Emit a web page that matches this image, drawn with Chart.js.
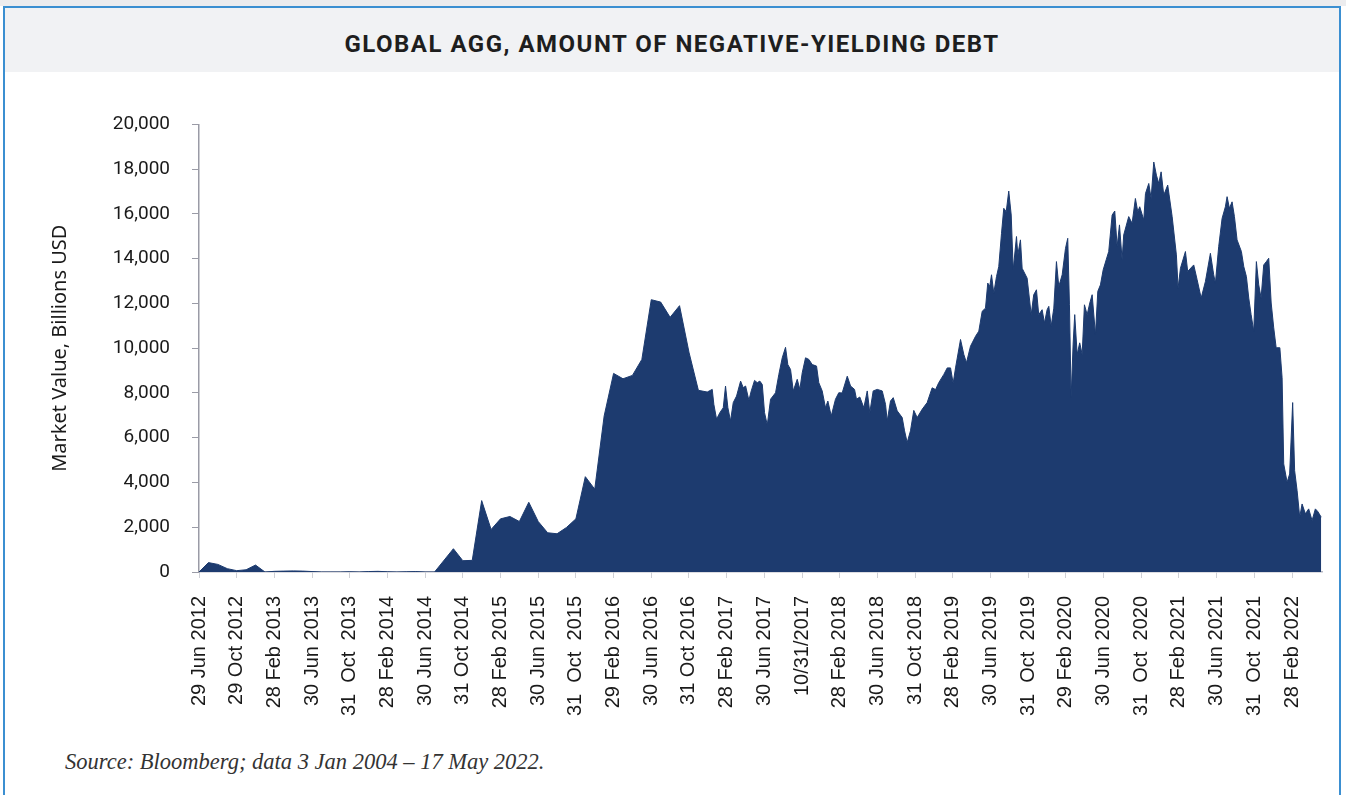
<!DOCTYPE html>
<html lang="en">
<head>
<meta charset="UTF-8">
<title>Global Agg, Amount of Negative-Yielding Debt</title>
<script src="https://cdn.jsdelivr.net/npm/chart.js"></script>
<style>
    body { margin: 0; width: 1346px; height: 795px; background: #fff; overflow: hidden; position: relative; }
    .topstrip { position: absolute; left: 0; top: 0; width: 1346px; height: 6px; background: #ececee; }
    .frame { position: absolute; left: 3px; top: 6px; width: 1334px; height: 800px; border: 2.5px solid #3b8fd1; border-bottom: none; }
    .title { position: absolute; left: 0; top: 0; width: 100%; height: 64px; background: #f1f2f4; overflow: hidden;
             font: 700 24px Roboto, sans-serif; letter-spacing: 1.5px; color: #1e1e1e; text-align: center; line-height: 72px; }
    .chart-box { position: absolute; left: 30px; top: 91px; width: 1304px; height: 629px; }
    .source { position: absolute; left: 65px; top: 749px; font: italic 22.5px "Liberation Serif", serif; color: #333; }
</style>
</head>
<body>
<div class="topstrip"></div>
<div class="frame">
    <div class="title">GLOBAL AGG, AMOUNT OF NEGATIVE-YIELDING DEBT</div>
</div>
<div class="chart-box"><canvas id="chart"></canvas></div>
<div class="source">Source: Bloomberg; data 3 Jan 2004 – 17 May 2022.</div>

<script>
// x = months after 29 Jun 2012, y = market value in billions USD
const months = [
    0, 1, 2, 3, 4, 5, 6, 7, 8, 9, 10, 11, 12, 13, 14, 15, 16, 17, 18, 19, 20, 21, 22, 23, 24, 25,
    27, 28, 29, 30, 31, 32, 33, 34, 35, 36, 37, 38, 39, 40, 41, 42, 43, 44, 45, 46, 47, 48, 49, 50, 51, 52, 53,
    53.94, 54.47, 54.64, 54.93, 55.28, 55.64, 55.88, 56.13, 56.41, 56.70, 57.05, 57.48, 57.76, 58.01, 58.36, 58.61,
    58.96, 59.25, 59.52, 59.78, 60.02, 60.31, 60.66, 61.19, 61.54, 61.90, 62.25, 62.49, 62.78, 63.07, 63.49, 63.77,
    64.02, 64.37, 64.72, 65.08, 65.54, 65.78, 66.14, 66.49, 66.74, 67.10, 67.55, 67.90, 68.26, 68.80, 69.15, 69.57,
    69.78, 70.13, 70.56, 70.92, 71.19, 71.55, 71.98, 72.51, 72.86, 73.04, 73.39, 73.68, 74.10, 74.63, 74.88, 75.16,
    75.51, 75.86, 76.22, 76.75, 77.28, 77.81, 78.17, 78.51, 79.05, 79.41, 79.76, 80.04, 80.29, 80.82, 81.17, 81.45,
    81.88, 82.41, 82.76, 83.12, 83.47, 83.71, 83.92, 84.11, 84.35, 84.64, 84.88, 85.17, 85.41, 85.67, 85.94, 86.20,
    86.41, 86.76, 86.90, 87.18, 87.36, 87.89, 88.32, 88.59, 88.88, 89.12, 89.48, 89.73, 90.01, 90.19, 90.44, 90.72,
    91.00, 91.25, 91.61, 91.96, 92.20, 92.38, 92.56, 92.77, 92.94, 93.20, 93.47, 93.73, 93.97, 94.26, 94.54, 94.79,
    95.14, 95.39, 95.67, 95.96, 96.28, 96.55, 96.91, 97.19, 97.44, 97.69, 97.97, 98.14, 98.67, 99.03, 99.38, 99.63,
    99.84, 100.27, 100.45, 100.80, 101.05, 101.33, 101.61, 101.86, 102.11, 102.39, 102.81, 103.28, 103.73, 103.91, 104.16, 104.69,
    104.93, 105.57, 105.93, 106.36, 106.81, 107.34, 107.69, 107.87, 108.22, 108.58, 108.93, 109.11, 109.36, 109.64, 109.89, 110.17,
    110.63, 110.88, 111.16, 111.41, 111.66, 111.94, 112.22, 112.47, 112.72, 113.00, 113.28, 113.53, 113.79, 114.06, 114.32, 114.71,
    114.95, 115.12, 115.48, 115.75, 116.07, 116.28, 116.54, 116.82, 117.07, 117.42, 117.77, 118.13, 118.48, 118.74, 119.10
];
const values = [
    0, 420, 340, 150, 60, 100, 310, 0, 30, 40, 50, 40, 20, 0, 0, 0, 10, 0, 20, 30, 10, 0, 10, 20, 0, 0,
    1040, 505, 520, 3190, 1900, 2375, 2480, 2256, 3115, 2256, 1753, 1709, 1990, 2375, 4260, 3700, 6974, 8874, 8634, 8785, 9497, 12167, 12060, 11380, 11900, 9822, 8117,
    8042, 8160, 7490, 6830, 7120, 7340, 8310, 7340, 6750, 7570, 7860, 8530, 8235, 8310, 7670, 8090,
    8560, 8460, 8530, 8380, 7120, 6570, 7720, 8010, 8830, 9570, 10040, 9270, 9050, 8090, 8610, 8160,
    8900, 9570, 9500, 9270, 9200, 8460, 8090, 7340, 7640, 6970, 7720, 8010, 8000, 8750, 8310, 8160,
    7720, 7820, 7340, 8090, 7120, 8090, 8160, 8090, 7490, 6750, 7640, 7790, 7200, 6900, 6310, 5790,
    6310, 7220, 6900, 7270, 7570, 8230, 8150, 8460, 8830, 9120, 9120, 8430, 9120, 10390, 9720, 9350,
    10090, 10530, 10760, 11650, 11790, 12910, 12760, 13280, 12460, 13200, 13650, 15130, 16250, 16100, 17020, 15950,
    13500, 14990, 14170, 14840, 13570, 13130, 11500, 12390, 12610, 11500, 11720, 11130, 11720, 11870, 10980, 11790,
    13870, 12760, 13280, 14460, 14910, 11940, 7790, 10180, 11500, 9720, 10240, 9720, 11940, 11500, 12020, 12390,
    10610, 12540, 12830, 13500, 13950, 14320, 15950, 16130, 14540, 15510, 13950, 15060, 15880, 15580, 16690, 16100,
    16320, 15730, 16910, 17360, 16690, 18320, 17730, 17360, 17880, 16840, 17290, 15880, 14170, 12680, 13570, 14320,
    13430, 13720, 13060, 12240, 12980, 14240, 13280, 12910, 14540, 15800, 16320, 16770, 16250, 16540, 15880, 14840,
    14320, 13650, 13200, 12240, 11500, 10760, 13870, 12830, 12240, 13720, 13870, 14020, 12020, 10910, 10020, 10020,
    8680, 4830, 4010, 4380, 7570, 4530, 3640, 2450, 3040, 2600, 2820, 2300, 2820, 2700, 2450
];
const tickLabels = [
    '29 Jun 2012', '29 Oct 2012', '28 Feb 2013', '30 Jun 2013', '31  Oct  2013', '28 Feb 2014',
    '30 Jun 2014', '31 Oct 2014', '28 Feb 2015', '30 Jun 2015', '31  Oct  2015', '29 Feb 2016',
    '30 Jun 2016', '31 Oct 2016', '28 Feb 2017', '30 Jun 2017', '10/31/2017', '28 Feb 2018',
    '30 Jun 2018', '31 Oct 2018', '28 Feb 2019', '30 Jun 2019', '31  Oct  2019', '29 Feb 2020',
    '30 Jun 2020', '31  Oct  2020', '28 Feb 2021', '30 Jun 2021', '31  Oct  2021', '28 Feb 2022'
];
const yTicks = [0, 2000, 4000, 6000, 8000, 10000, 12000, 14000, 16000, 18000, 20000];

const points = months.map((m, i) => ({ x: m, y: values[i] }));

new Chart(document.getElementById('chart'), {
    type: 'line',
    data: {
        datasets: [{
            data: points,
            fill: 'origin',
            backgroundColor: '#1d3b6f',
            borderColor: '#1d3b6f',
            borderWidth: 1,
            pointRadius: 0,
            tension: 0
        }]
    },
    options: {
        responsive: true,
        maintainAspectRatio: false,
        animation: false,
        layout: { padding: { top: 0, right: 0, bottom: 0, left: 0 } },
        plugins: { legend: { display: false }, tooltip: { enabled: false } },
        scales: {
            x: {
                type: 'linear',
                min: 0,
                max: 119.2,
                afterBuildTicks: s => { s.ticks = tickLabels.map((_, i) => ({ value: i * 4 })); },
                afterFit: s => { s.height = 148; },
                ticks: {
                    autoSkip: false,
                    maxRotation: 90,
                    minRotation: 90,
                    padding: 18,
                    color: '#1a1a1a',
                    font: { family: 'Liberation Sans', size: 20 },
                    callback: v => tickLabels[Math.round(v / 4)]
                },
                grid: { drawOnChartArea: false, drawTicks: true, tickLength: 6, color: '#cfd0d6' },
                border: { display: true, color: '#b9bac4', width: 1.5 }
            },
            y: {
                min: 0,
                max: 20000,
                afterBuildTicks: s => { s.ticks = yTicks.map(v => ({ value: v })); },
                afterFit: s => { s.width = 169; },
                ticks: {
                    padding: 22,
                    color: '#1a1a1a',
                    font: { family: 'Roboto', size: 19 },
                    callback: v => v.toLocaleString('en-US')
                },
                grid: { drawOnChartArea: false, drawTicks: true, tickLength: 7, color: '#9a9ba6' },
                border: { display: true, color: '#9a9ba6', width: 1.5 },
                title: {
                    display: true,
                    text: 'Market Value, Billions USD',
                    color: '#1a1a1a',
                    font: { family: 'Noto Sans', size: 20 },
                    padding: { top: 18, bottom: 0 }
                }
            }
        }
    }
});
</script>
</body>
</html>
